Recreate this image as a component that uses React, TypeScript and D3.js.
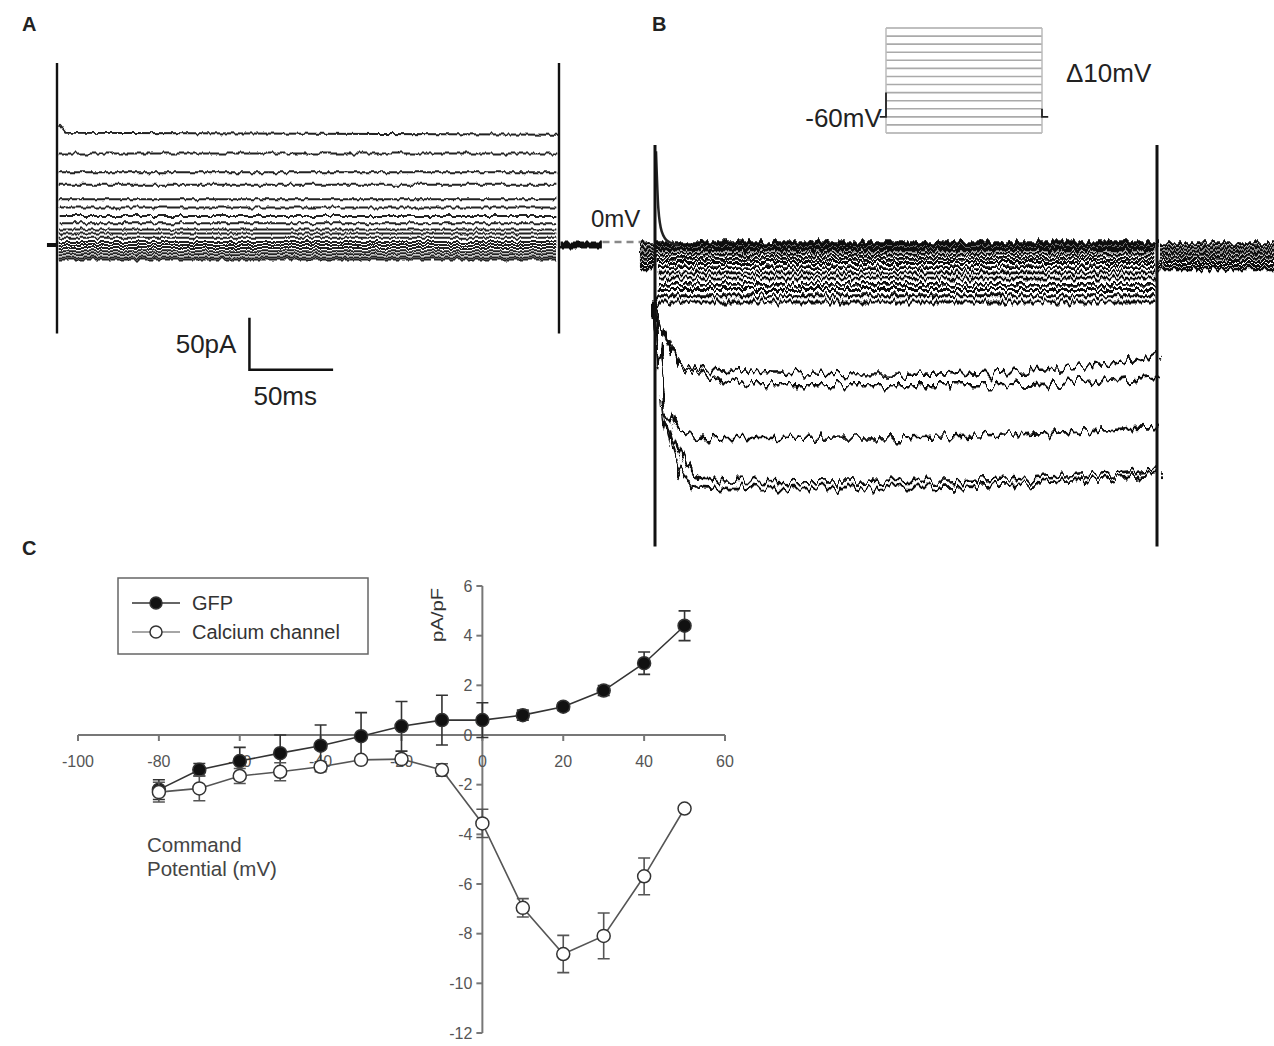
import * as d3 from 'd3'
import { useEffect, useRef } from 'react'

const FONT = '"Liberation Sans", Arial, Helvetica, sans-serif'

// A: steady state current of each sweep (pA)
const sweepsA = [108, 88, 70, 58, 44, 36, 28, 21, 15, 11, 7, 3, 0, -3, -6, -9, -12, -14]
const tailA = [2, 0, -2]

// B: sweeps that stay close to holding (pA)
const sweepsB = [7, 5, 2, 0, -4, -8, -12, -17, -22, -27, -33, -38, -44, -50]
// B: sweeps with inward current, [ms, pA]
const inwardB: [number, number][][] = [
  [[0, -48], [3, -67], [8, -91], [15, -108], [30, -115], [150, -120], [280, -108], [300, -101]],
  [[0, -48], [4, -72], [10, -98], [15, -111], [30, -120], [60, -130], [200, -130], [300, -123]],
  [[0, -48], [5, -139], [15, -173], [30, -181], [150, -180], [300, -171]],
  [[0, -48], [5, -144], [15, -197], [30, -219], [50, -222], [150, -223], [300, -212]],
  [[0, -48], [5, -149], [15, -207], [30, -228], [50, -229], [150, -229], [300, -216]],
]
const tailB = [6, 2, -2, -6, -10, -14, -18]
const spikeB: [number, number][] = [[0.6, 95], [2, 40], [4, 18], [8, 8], [14, 5]]

// voltage protocol (mV)
const holdingMV = -60
const stepsMV = [-80, -70, -60, -50, -40, -30, -20, -10, 0, 10, 20, 30, 40, 50]

// C: current density (pA/pF)
const voltages = [-80, -70, -60, -50, -40, -30, -20, -10, 0, 10, 20, 30, 40, 50]
const gfpMean = [-2.2, -1.4, -1.05, -0.73, -0.43, -0.05, 0.35, 0.6, 0.6, 0.8, 1.14, 1.79, 2.89, 4.4]
const gfpSem = [0.4, 0.25, 0.55, 0.73, 0.83, 0.95, 1.0, 1.0, 0.7, 0.2, 0.15, 0.2, 0.45, 0.6]
const caMean = [-2.3, -2.15, -1.65, -1.48, -1.28, -1.0, -0.97, -1.41, -3.56, -6.96, -8.82, -8.09, -5.69, -2.96]
const caSem = [0.4, 0.5, 0.3, 0.36, 0.2, 0.05, 0.15, 0.25, 0.57, 0.37, 0.75, 0.92, 0.74, 0.12]
const xTicks = [-100, -80, -60, -40, -20, 0, 20, 40, 60]
const yTicks = [-12, -10, -8, -6, -4, -2, 0, 2, 4, 6]

export default function App() {
  const ref = useRef<SVGSVGElement>(null)

  useEffect(() => {
    const svg = d3.select(ref.current)
    svg.selectAll('*').remove()
    const defs = svg.append('defs')

    // recording noise look for the traces (mostly varies along time)
    const addNoise = (id: string, freq: string, scale: number, seed: number) => {
      const f = defs.append('filter').attr('id', id)
        .attr('filterUnits', 'userSpaceOnUse')
        .attr('x', 0).attr('y', 0).attr('width', 1274).attr('height', 1046)
      f.append('feTurbulence').attr('type', 'fractalNoise').attr('baseFrequency', freq)
        .attr('numOctaves', 2).attr('seed', seed).attr('result', 'n')
      f.append('feDisplacementMap').attr('in', 'SourceGraphic').attr('in2', 'n')
        .attr('scale', scale).attr('xChannelSelector', 'R').attr('yChannelSelector', 'G')
    }
    addNoise('noiseA', '0.2 0.03', 6, 3)
    addNoise('noiseB', '0.25 0.04', 12, 7)
    addNoise('noiseB2', '0.17 0.03', 20, 11)

    const label = (x: number, y: number, t: string, size: number, opts: any = {}) =>
      svg.append('text').attr('x', x).attr('y', y).text(t)
        .attr('font-family', FONT).attr('font-size', size)
        .attr('fill', opts.fill || '#222')
        .attr('font-weight', opts.weight || 'normal')
        .attr('text-anchor', opts.anchor || 'start')

    /* ---------- panel A ---------- */
    label(22, 31, 'A', 20, { weight: 'bold' })
    const xA = d3.scaleLinear().domain([0, 300]).range([57, 559])
    const yA = d3.scaleLinear().domain([0, 50]).range([245, 193])
    const lineA = d3.line<[number, number]>().x(d => xA(d[0])).y(d => yA(d[1]))
    const gA = svg.append('g')

    gA.append('g').attr('filter', 'url(#noiseA)')
      .selectAll('path').data(sweepsA).join('path')
      .attr('d', (v, i) => lineA(i === 0 ? [[1, v + 8], [5, v], [299, v - 2]] : [[1, v], [299, v]]))
      .attr('fill', 'none').attr('stroke', '#222').attr('stroke-width', 2)

    // holding before and after the pulse
    gA.append('path').attr('d', lineA([[-6, 0], [0, 0]]))
      .attr('stroke', '#111').attr('stroke-width', 4)
    gA.append('g').attr('filter', 'url(#noiseA)')
      .selectAll('path').data(tailA).join('path')
      .attr('d', v => lineA([[301, v], [325, v]]))
      .attr('stroke', '#111').attr('stroke-width', 2.6)

    // capacitive transients
    gA.selectAll('line.tr').data([0, 300]).join('line').attr('class', 'tr')
      .attr('x1', d => xA(d)).attr('x2', d => xA(d))
      .attr('y1', yA(175)).attr('y2', yA(-85))
      .attr('stroke', '#111').attr('stroke-width', 2.4)

    // 0 mV marker
    svg.append('line').attr('x1', xA(326)).attr('x2', xA(352))
      .attr('y1', yA(3)).attr('y2', yA(3))
      .attr('stroke', '#888').attr('stroke-width', 2.5).attr('stroke-dasharray', '7,5')
    label(591, 227, '0mV', 24)

    // scale bar
    const sbT = 115, sbI = -120
    svg.append('path')
      .attr('d', `M${xA(sbT)},${yA(sbI + 50)}V${yA(sbI)}H${xA(sbT + 50)}`)
      .attr('fill', 'none').attr('stroke', '#111').attr('stroke-width', 2.5)
    label(xA(sbT) - 13, 353, '50pA', 26, { anchor: 'end' })
    label(xA(sbT) + 4, 405, '50ms', 26)

    /* ---------- panel B ---------- */
    label(652, 31, 'B', 20, { weight: 'bold' })
    const xB = d3.scaleLinear().domain([0, 300]).range([655, 1157])
    const yB = d3.scaleLinear().domain([0, -250]).range([250, 510])
    const lineB = d3.line<[number, number]>().x(d => xB(d[0])).y(d => yB(d[1]))
      .curve(d3.curveMonotoneX)
    const gB = svg.append('g')

    gB.append('g').attr('filter', 'url(#noiseB)')
      .selectAll('path').data(sweepsB).join('path')
      .attr('d', v => lineB([[1, v], [299, v]]))
      .attr('fill', 'none').attr('stroke', '#111').attr('stroke-width', 2.8)

    gB.append('g').attr('filter', 'url(#noiseB)')
      .selectAll('path').data(tailB).join('path')
      .attr('d', v => lineB([[-9, v], [0, v]]) + lineB([[302, v], [371, v]]))
      .attr('fill', 'none').attr('stroke', '#111').attr('stroke-width', 3.2)

    gB.append('g').attr('filter', 'url(#noiseB2)')
      .selectAll('path').data(inwardB).join('path')
      .attr('d', d => lineB(d))
      .attr('fill', 'none').attr('stroke', '#111').attr('stroke-width', 2.6)

    gB.append('path').attr('d', lineB(spikeB))
      .attr('fill', 'none').attr('stroke', '#222').attr('stroke-width', 2.5)

    gB.selectAll('line.tr').data([0, 300]).join('line').attr('class', 'tr')
      .attr('x1', d => xB(d)).attr('x2', d => xB(d))
      .attr('y1', yB(101)).attr('y2', yB(-285))
      .attr('stroke', '#111').attr('stroke-width', 3)

    // voltage protocol inset
    const xP = d3.scaleLinear().domain([0, 300]).range([886, 1042])
    const yP = d3.scaleLinear().domain([-80, 50]).range([133, 28])
    const gP = svg.append('g')
    gP.selectAll('line.st').data(stepsMV).join('line').attr('class', 'st')
      .attr('x1', xP(0)).attr('x2', xP(300))
      .attr('y1', d => yP(d)).attr('y2', d => yP(d))
      .attr('stroke', '#aaa').attr('stroke-width', 1.6)
    gP.selectAll('line.ed').data([0, 300]).join('line').attr('class', 'ed')
      .attr('x1', d => xP(d)).attr('x2', d => xP(d))
      .attr('y1', yP(50)).attr('y2', yP(-80))
      .attr('stroke', '#bbb').attr('stroke-width', 1.5)
    gP.append('path')
      .attr('d', `M${xP(-12)},${yP(holdingMV)}H${xP(0)}V${yP(holdingMV + 30)}M${xP(300)},${yP(holdingMV + 10)}V${yP(holdingMV)}H${xP(312)}`)
      .attr('fill', 'none').attr('stroke', '#222').attr('stroke-width', 1.8)
    label(xP(-8), yP(holdingMV) + 10, '-60mV', 26, { anchor: 'end' })
    label(1066, 82, '\u039410mV', 26)

    /* ---------- panel C ---------- */
    label(22, 555, 'C', 20, { weight: 'bold' })
    const xC = d3.scaleLinear().domain([-100, 60]).range([78, 725])
    const yC = d3.scaleLinear().domain([-12, 6]).range([1033, 586])
    const gC = svg.append('g')
    const axisCol = '#777'
    const tickCol = '#555'

    gC.append('line').attr('x1', xC(-100)).attr('x2', xC(60)).attr('y1', yC(0)).attr('y2', yC(0))
      .attr('stroke', axisCol).attr('stroke-width', 2)
    gC.append('line').attr('x1', xC(0)).attr('x2', xC(0)).attr('y1', yC(6)).attr('y2', yC(-12))
      .attr('stroke', axisCol).attr('stroke-width', 2)
    gC.selectAll('line.xt').data(xTicks).join('line').attr('class', 'xt')
      .attr('x1', d => xC(d)).attr('x2', d => xC(d)).attr('y1', yC(0)).attr('y2', yC(0) + 6)
      .attr('stroke', axisCol).attr('stroke-width', 2)
    gC.selectAll('line.yt').data(yTicks).join('line').attr('class', 'yt')
      .attr('x1', xC(0) - 6).attr('x2', xC(0)).attr('y1', d => yC(d)).attr('y2', d => yC(d))
      .attr('stroke', axisCol).attr('stroke-width', 2)
    gC.selectAll('text.xl').data(xTicks).join('text').attr('class', 'xl')
      .attr('x', d => xC(d)).attr('y', yC(0) + 32).attr('text-anchor', 'middle')
      .attr('font-family', FONT).attr('font-size', 16).attr('fill', tickCol).text(d => d)
    gC.selectAll('text.yl').data(yTicks).join('text').attr('class', 'yl')
      .attr('x', xC(0) - 10).attr('y', d => yC(d)).attr('dy', '0.35em').attr('text-anchor', 'end')
      .attr('font-family', FONT).attr('font-size', 16).attr('fill', tickCol).text(d => d)
    gC.append('text').attr('transform', `translate(443,615) rotate(-90)`)
      .attr('text-anchor', 'middle').attr('font-family', FONT).attr('font-size', 16)
      .attr('textLength', 54).attr('lengthAdjust', 'spacingAndGlyphs')
      .attr('fill', '#333').text('pA/pF')

    const series = [
      { mean: gfpMean, sem: gfpSem, fill: '#111', line: '#333' },
      { mean: caMean, sem: caSem, fill: '#fff', line: '#555' },
    ]
    const lineC = d3.line<number>().x((_, i) => xC(voltages[i])).y(d => yC(d))
    series.forEach(s => {
      const g = gC.append('g')
      g.append('path').attr('d', lineC(s.mean)).attr('fill', 'none')
        .attr('stroke', s.line).attr('stroke-width', 1.6)
      g.selectAll('path.eb').data(s.mean).join('path').attr('class', 'eb')
        .attr('d', (m, i) => {
          const x = xC(voltages[i]), lo = yC(m - s.sem[i]), hi = yC(m + s.sem[i])
          return `M${x},${lo}V${hi}M${x - 6},${lo}H${x + 6}M${x - 6},${hi}H${x + 6}`
        })
        .attr('fill', 'none').attr('stroke', s.line).attr('stroke-width', 1.6)
      g.selectAll('circle').data(s.mean).join('circle')
        .attr('cx', (_, i) => xC(voltages[i])).attr('cy', d => yC(d)).attr('r', 6.5)
        .attr('fill', s.fill).attr('stroke', '#333').attr('stroke-width', 1.5)
    })

    // legend
    const lg = gC.append('g')
    lg.append('rect').attr('x', 118).attr('y', 578).attr('width', 250).attr('height', 76)
      .attr('fill', '#fff').attr('stroke', '#666').attr('stroke-width', 1.5)
    const items = [
      { name: 'GFP', fill: '#111', line: '#333', y: 603 },
      { name: 'Calcium channel', fill: '#fff', line: '#888', y: 632 },
    ]
    items.forEach(it => {
      lg.append('line').attr('x1', 132).attr('x2', 180).attr('y1', it.y).attr('y2', it.y)
        .attr('stroke', it.line).attr('stroke-width', 1.6)
      lg.append('circle').attr('cx', 156).attr('cy', it.y).attr('r', 6)
        .attr('fill', it.fill).attr('stroke', '#333').attr('stroke-width', 1.5)
      lg.append('text').attr('x', 192).attr('y', it.y).attr('dy', '0.35em')
        .attr('font-family', FONT).attr('font-size', 20).attr('fill', '#333').text(it.name)
    })

    label(147, 852, 'Command', 20.5, { fill: '#444' })
    label(147, 876, 'Potential (mV)', 20.5, { fill: '#444' })
  }, [])

  return (
    <svg ref={ref} width={1274} height={1046}
      style={{ position: 'absolute', left: 0, top: 0, background: '#fff' }} />
  )
}
